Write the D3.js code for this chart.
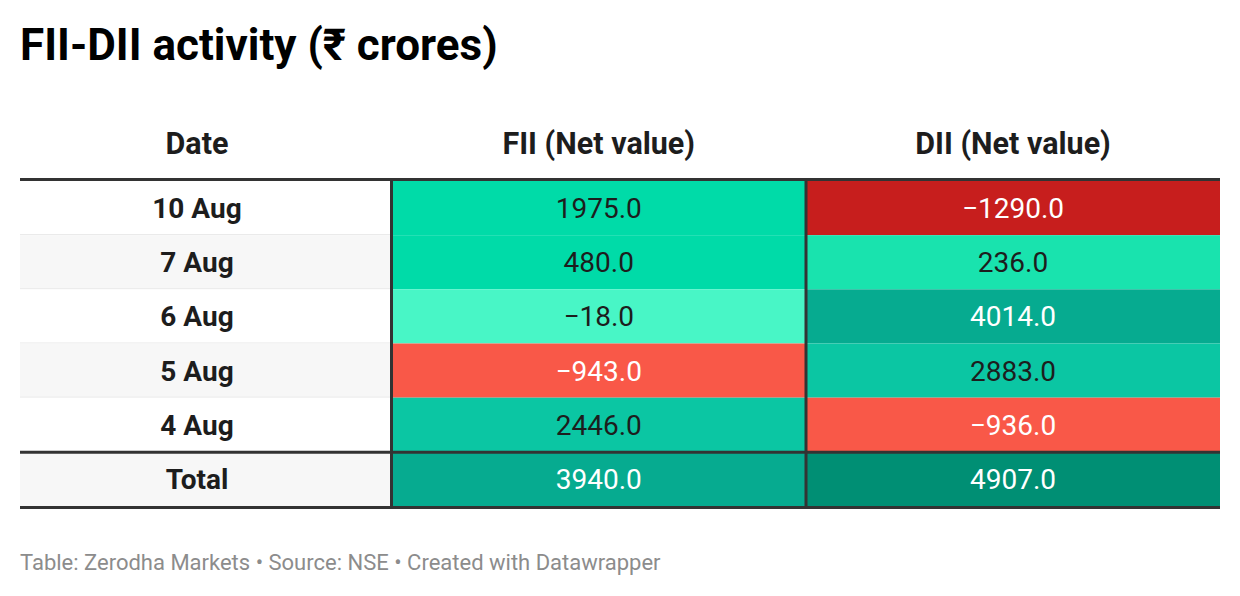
<!DOCTYPE html>
<html>
<head>
<meta charset="utf-8">
<script src="https://cdn.jsdelivr.net/npm/d3@7"></script>
<style>
  body { margin: 0; background: #fff; }
  text { font-family: Roboto, "Noto Sans", sans-serif; }
</style>
</head>
<body>
<svg id="fig_table" width="1240" height="596"></svg>
<script>

var dates = ['10 Aug', '7 Aug', '6 Aug', '5 Aug', '4 Aug'];
var fii_values = [1975.0, 480.0, -18.0, -943.0, 2446.0];
var dii_values = [-1290.0, 236.0, 4014.0, 2883.0, -936.0];
var total_label = 'Total';
var fii_total = 3940.0;
var dii_total = 4907.0;
var headers = ['Date', 'FII (Net value)', 'DII (Net value)'];

// stepped colour scale, roughly what datawrapper shows
var color_steps = [-1000, -500, 100, 400, 2000, 3500, 4500];
var color_list = ['#c71e1d', '#f95848', '#48f6c6', '#19e3ae', '#00dba8', '#0bc6a3', '#06ab90', '#008f74'];
var dark_list = ['#c71e1d', '#f95848', '#06ab90', '#008f74'];

function load_table_fig(){

    var svg = d3.select("#fig_table");
    var left = 20, right = 1220;
    var col_edges = [left, 391.5, 806, right];

    var color = d3.scaleThreshold().domain(color_steps).range(color_list);
    var fmt = d3.format(".1f");

    var rows = dates.map(function(d, i){ return {label: d, fii: fii_values[i], dii: dii_values[i], total: false}; });
    rows.push({label: total_label, fii: fii_total, dii: dii_total, total: true});

    var y = d3.scaleBand().domain(d3.range(rows.length)).range([181, 506]);
    var bw = y.bandwidth();

    // title
    svg.append("text")
      .attr("x", left).attr("y", 60)
      .style("font-size", "44px").style("font-weight", "bold").style("fill", "#000")
      .text("FII-DII activity (₹ crores)");

    // headers
    var head_x = [197, (col_edges[1] + col_edges[2]) / 2, (col_edges[2] + col_edges[3]) / 2];
    svg.selectAll("text.head").data(headers).enter().append("text")
      .attr("class", "head")
      .attr("x", function(d, i){ return head_x[i]; })
      .attr("y", 154)
      .attr("text-anchor", "middle")
      .style("font-size", "30.5px").style("font-weight", "bold").style("fill", "#1d1d1d")
      .text(function(d){ return d; });

    var g = svg.selectAll("g.row").data(rows).enter().append("g")
      .attr("class", "row")
      .attr("transform", function(d, i){ return "translate(0," + y(i) + ")"; });

    // date cells
    g.append("rect")
      .attr("x", left).attr("y", 0)
      .attr("width", col_edges[1] - left).attr("height", bw)
      .attr("fill", function(d, i){ return i % 2 ? "#f7f7f7" : "#ffffff"; });

    g.append("line")
      .attr("x1", left).attr("x2", col_edges[1])
      .attr("y1", bw - 0.5).attr("y2", bw - 0.5)
      .attr("stroke", function(d, i){ return i < dates.length - 1 ? "#e6e6e6" : "none"; });

    g.append("text")
      .attr("x", head_x[0]).attr("y", bw / 2).attr("dy", "0.36em")
      .attr("text-anchor", "middle")
      .style("font-size", "28px").style("font-weight", "bold").style("fill", "#1d1d1d")
      .text(function(d){ return d.label; });

    // value cells
    ['fii', 'dii'].forEach(function(key, k){
        g.append("rect")
          .attr("x", col_edges[k + 1]).attr("y", 0)
          .attr("width", col_edges[k + 2] - col_edges[k + 1]).attr("height", bw)
          .attr("fill", function(d){ return color(d[key]); });

        g.append("text")
          .attr("x", head_x[k + 1]).attr("y", bw / 2).attr("dy", "0.36em")
          .attr("text-anchor", "middle")
          .style("font-size", "28px")
          .style("fill", function(d){ return dark_list.indexOf(color(d[key])) >= 0 ? "#ffffff" : "#1d1d1d"; })
          .text(function(d){ return fmt(d[key]).replace("-", "\u2212"); });
    });

    // heavy rules
    var top_y = y(0), total_y = y(rows.length - 1), bottom_y = y(rows.length - 1) + bw;
    [top_y - 1.5, total_y + 0.5, bottom_y + 1.5].forEach(function(yy){
        svg.append("line")
          .attr("x1", left).attr("x2", right)
          .attr("y1", yy).attr("y2", yy)
          .attr("stroke", "#333").attr("stroke-width", 3);
    });

    [col_edges[1], col_edges[2]].forEach(function(xx){
        svg.append("line")
          .attr("x1", xx).attr("x2", xx)
          .attr("y1", top_y).attr("y2", bottom_y)
          .attr("stroke", "#333").attr("stroke-width", 3);
    });

    // footer
    svg.append("text")
      .attr("x", left).attr("y", 570)
      .style("font-size", "22px").style("fill", "#8c8c8c")
      .text("Table: Zerodha Markets \u2022 Source: NSE \u2022 Created with Datawrapper");
}

load_table_fig();
</script>
</body>
</html>
